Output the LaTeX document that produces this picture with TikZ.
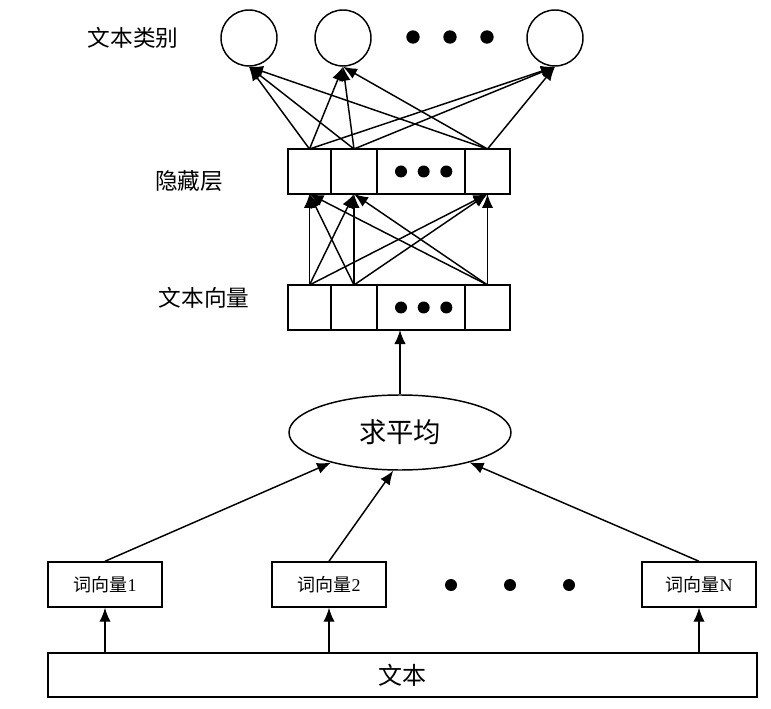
\documentclass[tikz,border=0pt]{standalone}
\usepackage{fontspec}
\setmainfont{Liberation Serif}
\newfontfamily\cjk{Noto Sans CJK SC}
\usetikzlibrary{positioning,arrows.meta,shapes.geometric}

\tikzset{
  neuron/.style={draw,circle,minimum size=42pt,inner sep=0pt},
  cell/.style={draw,rectangle,minimum height=33.75pt,inner sep=0pt,outer sep=0pt},
  blob/.style={fill,circle,minimum size=9pt,inner sep=0pt},
  wordbox/.style={draw,rectangle,minimum width=85.5pt,minimum height=33.75pt,inner sep=0pt,
    font=\fontsize{13.5}{16}\selectfont},
  lbl/.style={font=\fontsize{17}{20}\selectfont\cjk},
}

\begin{document}
\begin{tikzpicture}[x=0.75pt,y=-0.75pt,line width=1.1pt,>={Latex[length=10.5pt,width=8.5pt]}]

  \useasboundingbox (0,0) rectangle (771,709);

  % output layer
  \node[neuron] (o1) at (249,38) {};
  \node[neuron] (o2) at (343,38) {};
  \node[neuron] (o3) at (555,38) {};
  \node[blob,minimum size=10pt] at (413,37) {};
  \node[blob,minimum size=10pt] at (450,37) {};
  \node[blob,minimum size=10pt] at (487,37) {};
  \node[lbl] (lo) at (133,38) {文本类别};

  % hidden layer
  \node[cell,minimum width=32.25pt] (h1) at (309.5,171.5) {};
  \node[cell,minimum width=34.5pt] (h2) [right=0pt of h1] {};
  \node[cell,minimum width=66pt] (hd) [right=0pt of h2] {};
  \node[cell,minimum width=33.75pt] (h4) [right=0pt of hd] {};
  \node[blob] at ([xshift=-15pt]hd.center) {};
  \node[blob] at ([xshift=2pt]hd.center) {};
  \node[blob] at ([xshift=19pt]hd.center) {};
  \node[lbl] (lh) at (189,181) {隐藏层};

  % text vector
  \node[cell,minimum width=32.25pt] (t1) [below=68.25pt of h1] {};
  \node[cell,minimum width=34.5pt] (t2) [right=0pt of t1] {};
  \node[cell,minimum width=66pt] (td) [right=0pt of t2] {};
  \node[cell,minimum width=33.75pt] (t4) [right=0pt of td] {};
  \node[blob] at ([xshift=-15pt]td.center) {};
  \node[blob] at ([xshift=2pt]td.center) {};
  \node[blob] at ([xshift=19pt]td.center) {};
  \node[lbl] (lt) at (204,298) {文本向量};

  % average
  \node[draw,ellipse,minimum width=166.5pt,minimum height=56.25pt,inner sep=0pt,
    font=\fontsize{20.5}{24}\selectfont\cjk] (avg) at (400,432.5) {求平均};

  % word vectors
  \node[wordbox] (w1) at (105,584.5) {{\cjk 词向量}1};
  \node[wordbox] (w2) at (329,584.5) {{\cjk 词向量}2};
  \node[wordbox] (wn) at (699,584.5) {{\cjk 词向量}N};
  \node[blob] at (451,585) {};
  \node[blob] at (510,585) {};
  \node[blob] at (569,585) {};

  % text
  \node[draw,rectangle,minimum width=531.75pt,minimum height=33pt,inner sep=0pt,
    font=\fontsize{18}{22}\selectfont\cjk] (txt) at (402.5,675) {文本};

  \path[->] (w1 |- txt.north) edge (w1.south);
  \path[->] (w2 |- txt.north) edge (w2.south);
  \path[->] (wn |- txt.north) edge (wn.south);

  \path[->] (w1.north) edge (avg);
  \path[->] (w2.north) edge (avg.-100);
  \path[->] (wn.north) edge (avg);

  \path[->] (avg.north) edge (avg.north |- td.south);

  \path[->] (t1.north) edge (h1.south) edge (h2.south) edge (h4.south);
  \path[->] (t2.north) edge (h1.south) edge (h2.south) edge (h4.south);
  \path[->] (t4.north) edge (h1.south) edge (h2.south) edge (h4.south);

  \path[->] (h1.north) edge (o1.south) edge (o2.south) edge (o3.south);
  \path[->] (h2.north) edge (o1.south) edge (o2.south) edge (o3.south);
  \path[->] (h4.north) edge (o1.south) edge (o2.south) edge (o3.south);

\end{tikzpicture}
\end{document}
